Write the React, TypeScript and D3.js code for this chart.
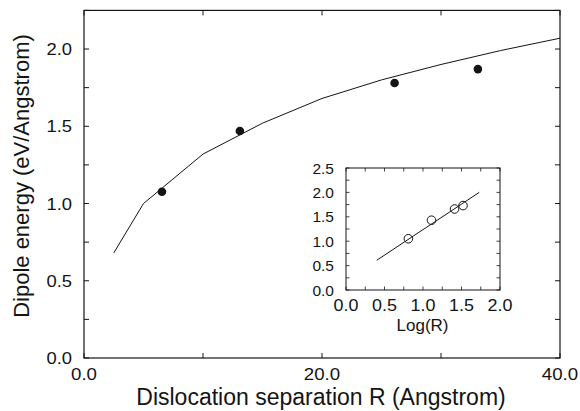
import React from "react";
import * as d3 from "d3";

// Main plot data
const curveR = [2.5, 5, 10, 15, 20, 25, 30, 35, 40];
const curveE = [0.68, 1.0, 1.32, 1.52, 1.68, 1.8, 1.9, 1.99, 2.07];
const dotR = [6.55, 13.1, 26.1, 33.1];
const dotE = [1.076, 1.469, 1.78, 1.87];
const xTickLabels = [0, 20, 40];
const xTicks = [0, 10, 20, 30, 40];
const yTickLabels = [0, 0.5, 1.0, 1.5, 2.0];
const yTicks = [0, 0.25, 0.5, 0.75, 1.0, 1.25, 1.5, 1.75, 2.0, 2.25];

// Inset data
const insetLineLogR = [0.4, 1.73];
const insetLineE = [0.61, 2.0];
const insetLogR = [0.81, 1.11, 1.41, 1.52];
const insetE = [1.05, 1.43, 1.66, 1.73];
const insetXTickLabels = [0, 0.5, 1.0, 1.5, 2.0];
const insetXTicks = [0, 0.25, 0.5, 0.75, 1.0, 1.25, 1.5, 1.75, 2.0];
const insetYTickLabels = [0, 0.5, 1.0, 1.5, 2.0, 2.5];
const insetYTicks = [0, 0.25, 0.5, 0.75, 1.0, 1.25, 1.5, 1.75, 2.0, 2.25, 2.5];

const FONT = "'Liberation Sans', Arial, Helvetica, sans-serif";
const INK = "#141414";

function T({ x, y, anchor, size, sx = 1, children }: any) {
  return (
    <text
      transform={`translate(${x},${y}) scale(${sx},1)`}
      textAnchor={anchor}
      fontSize={size}
      fontFamily={FONT}
      fill={INK}
    >
      {children}
    </text>
  );
}

export default function App() {
  const x = d3.scaleLinear().domain([0, 40]).range([84, 560]);
  const y = d3.scaleLinear().domain([0, 2.25]).range([358, 10.4]);
  const ix = d3.scaleLinear().domain([0, 2]).range([346, 500]);
  const iy = d3.scaleLinear().domain([0, 2.5]).range([290, 168]);
  const f1 = d3.format(".1f");

  const mainLine = d3
    .line<number>()
    .x((_, i) => x(curveR[i]))
    .y((d) => y(d))(curveE);
  const insetLine = d3
    .line<number>()
    .x((_, i) => ix(insetLineLogR[i]))
    .y((d) => iy(d))(insetLineE);

  const tk = 5;
  const itk = 3.5;

  return (
    <div style={{ position: "fixed", left: 0, top: 0 }}>
      <svg width={580} height={411} style={{ display: "block", background: "#fff" }}>
        {/* main frame */}
        <rect
          x={x(0)}
          y={y(2.25)}
          width={x(40) - x(0)}
          height={y(0) - y(2.25)}
          fill="none"
          stroke={INK}
          strokeWidth={1.2}
        />
        {xTicks.map((t) => (
          <g key={"xt" + t}>
            <line x1={x(t)} x2={x(t)} y1={y(0)} y2={y(0) - tk} stroke={INK} />
            <line x1={x(t)} x2={x(t)} y1={y(2.25)} y2={y(2.25) + tk} stroke={INK} />
          </g>
        ))}
        {yTicks.map((t) => (
          <g key={"yt" + t}>
            <line x1={x(0)} x2={x(0) + tk} y1={y(t)} y2={y(t)} stroke={INK} />
            <line x1={x(40)} x2={x(40) - tk} y1={y(t)} y2={y(t)} stroke={INK} />
          </g>
        ))}
        {xTickLabels.map((t) => (
          <T key={"xl" + t} x={x(t)} y={380} anchor="middle" size={17} sx={1.1}>
            {f1(t)}
          </T>
        ))}
        {yTickLabels.map((t) => (
          <T key={"yl" + t} x={72} y={y(t) + 6} anchor="end" size={16} sx={1.15}>
            {f1(t)}
          </T>
        ))}
        <T x={321} y={405} anchor="middle" size={23}>
          Dislocation separation R (Angstrom)
        </T>
        <text
          transform={`translate(29,176) rotate(-90)`}
          textAnchor="middle"
          fontSize={22}
          fontFamily={FONT}
          fill={INK}
        >
          Dipole energy (eV/Angstrom)
        </text>
        <path d={mainLine || ""} fill="none" stroke={INK} strokeWidth={1} />
        {dotR.map((r, i) => (
          <circle key={"d" + i} cx={x(r)} cy={y(dotE[i])} r={4.3} fill={INK} />
        ))}

        {/* inset */}
        <rect
          x={ix(0)}
          y={iy(2.5)}
          width={ix(2) - ix(0)}
          height={iy(0) - iy(2.5)}
          fill="#fff"
          stroke={INK}
          strokeWidth={1}
        />
        {insetXTicks.map((t) => (
          <g key={"ixt" + t}>
            <line x1={ix(t)} x2={ix(t)} y1={iy(0)} y2={iy(0) - itk} stroke={INK} strokeWidth={0.8} />
            <line x1={ix(t)} x2={ix(t)} y1={iy(2.5)} y2={iy(2.5) + itk} stroke={INK} strokeWidth={0.8} />
          </g>
        ))}
        {insetYTicks.map((t) => (
          <g key={"iyt" + t}>
            <line x1={ix(0)} x2={ix(0) + itk} y1={iy(t)} y2={iy(t)} stroke={INK} strokeWidth={0.8} />
            <line x1={ix(2)} x2={ix(2) - itk} y1={iy(t)} y2={iy(t)} stroke={INK} strokeWidth={0.8} />
          </g>
        ))}
        {insetXTickLabels.map((t) => (
          <T key={"ixl" + t} x={ix(t)} y={311} anchor="middle" size={16} sx={1.12}>
            {f1(t)}
          </T>
        ))}
        {insetYTickLabels.map((t) => (
          <T key={"iyl" + t} x={334} y={iy(t) + 5.5} anchor="end" size={15.5}>
            {f1(t)}
          </T>
        ))}
        <T x={422.5} y={331} anchor="middle" size={17}>
          Log(R)
        </T>
        <path d={insetLine || ""} fill="none" stroke={INK} strokeWidth={1} />
        {insetLogR.map((r, i) => (
          <circle
            key={"ic" + i}
            cx={ix(r)}
            cy={iy(insetE[i])}
            r={4.3}
            fill="none"
            stroke={INK}
            strokeWidth={1}
          />
        ))}
      </svg>
    </div>
  );
}
